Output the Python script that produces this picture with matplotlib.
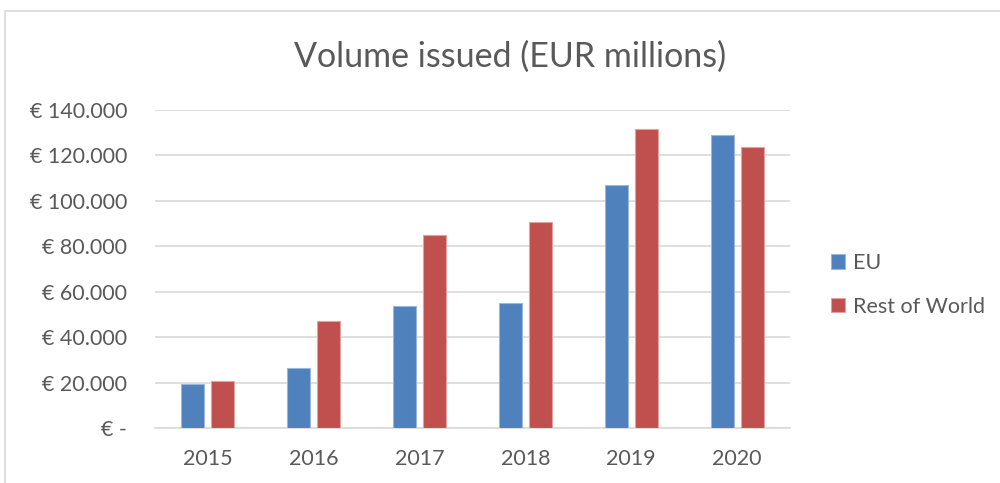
import matplotlib
matplotlib.use("Agg")
import matplotlib.pyplot as plt
from matplotlib.patches import Rectangle
from matplotlib.ticker import FuncFormatter
import numpy as np

# Datos (EUR millones)
years = ["2015", "2016", "2017", "2018", "2019", "2020"]
eu = [19400, 26400, 53800, 55300, 106900, 129100]
rest_of_world = [20700, 47200, 85100, 90800, 131700, 123500]
y_ticks = [0, 20000, 40000, 60000, 80000, 100000, 120000, 140000]

text_color = "#595959"
grid_color = "#d9d9d9"
plt.rcParams["font.family"] = ["Lato", "DejaVu Sans"]


def euro_format(value, pos):
    # Formato estilo Excel: punto como separador de miles, guion para cero
    if value == 0:
        return "€ -"
    return "€ " + f"{int(value):,}".replace(",", ".")


fig = plt.figure(figsize=(10, 4.83), dpi=100)

# Borde del area del grafico
fig.patches.append(Rectangle((0.005, -0.02), 1.2, 0.998, transform=fig.transFigure,
                             fill=False, edgecolor="#d9d9d9", linewidth=1.2))

ax = fig.add_axes([0.155, 0.1133, 0.635, 0.659])

x = np.arange(len(years))
width = 0.217
offset = 0.1415
ax.bar(x - offset, eu, width, color="#4F81BD", edgecolor="#9db7dc", linewidth=0.8,
       label="EU", zorder=3)
ax.bar(x + offset, rest_of_world, width, color="#C0504D", edgecolor="#e0a3a1", linewidth=0.8,
       label="Rest of World", zorder=3)

ax.set_xlim(-0.5, len(years) - 0.5)
ax.set_ylim(0, 140000)
ax.set_yticks(y_ticks)
ax.yaxis.set_major_formatter(FuncFormatter(euro_format))
ax.set_xticks(x)
ax.set_xticklabels(years)

ax.grid(axis="y", color=grid_color, linewidth=1.2, zorder=0)
for side in ["top", "right", "left"]:
    ax.spines[side].set_visible(False)
ax.spines["bottom"].set_color(grid_color)
ax.spines["bottom"].set_linewidth(1.2)

ax.tick_params(axis="y", length=0, pad=20, labelsize=15.5, labelcolor=text_color)
ax.tick_params(axis="x", length=0, pad=15, labelsize=15.5, labelcolor=text_color)

fig.text(0.51, 0.882, "Volume issued (EUR millions)", ha="center", va="center",
         fontsize=24.5, color=text_color)

leg = ax.legend(loc="center left", bbox_to_anchor=(0.812, 0.41), bbox_transform=fig.transFigure,
                frameon=False, fontsize=15.5, handlelength=0.65, handleheight=0.65,
                handletextpad=0.35, labelspacing=1.1)
for t in leg.get_texts():
    t.set_color(text_color)

fig.savefig("out.png", dpi=100)
